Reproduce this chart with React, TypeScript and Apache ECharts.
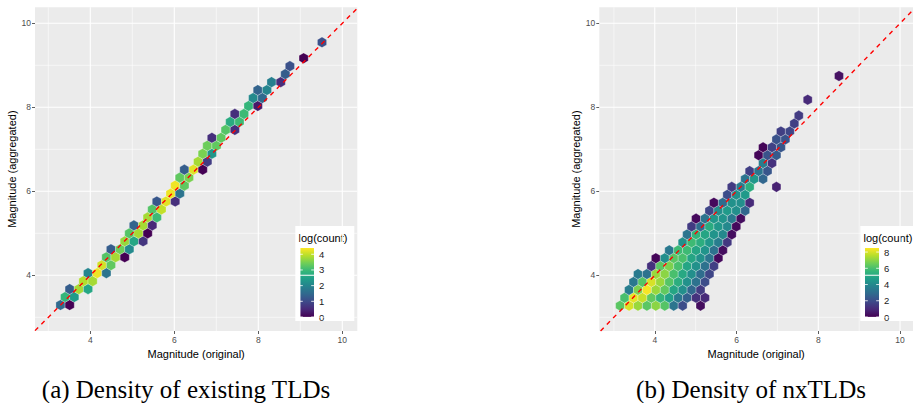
import { useEffect, useRef } from "react";
import * as echarts from "echarts";

// Axis limits (magnitude units) of the two panels
const xLimitsExisting = [2.683, 10.357];
const xLimitsNx = [2.643, 10.317];
const yLimits = [2.674, 10.381];

const axisBreaks = [4, 6, 8, 10];
const minorBreaks = [3, 5, 7, 9];

// Hexbin grids: centre of cell (0, 0), half a cell width and row spacing, in magnitude units
const existingGrid = { x0: 3.29, y0: 3.293, half: 0.10924, row: 0.18955 };
const nxGrid = { x0: 3.152, y0: 3.276, half: 0.10927, row: 0.1886 };

// Hexbin cells: [column (half-cell steps), row, log(count)]
const existingCells: number[][] = [
  [0, 0, 1.5], [2, 0, 0],
  [1, 1, 2.9], [3, 1, 2.4],
  [2, 2, 1.3], [4, 2, 3.8], [6, 2, 2.6],
  [5, 3, 3.9], [7, 3, 3.8],
  [6, 4, 2.0], [8, 4, 4.3], [10, 4, 1.7],
  [9, 5, 4.1], [11, 5, 3.3],
  [10, 6, 3.2], [12, 6, 3.8], [14, 6, 0],
  [11, 7, 1.3], [13, 7, 3.4], [15, 7, 2.1],
  [14, 8, 3.7], [16, 8, 2.6], [18, 8, 0.7],
  [15, 9, 3.2], [17, 9, 3.8], [19, 9, 0],
  [16, 10, 1.4], [18, 10, 3.8], [20, 10, 0.5],
  [19, 11, 3.8], [21, 11, 3.0],
  [20, 12, 3.2], [22, 12, 4.0],
  [21, 13, 1.2], [23, 13, 4.2], [25, 13, 0.6],
  [24, 14, 4.3], [26, 14, 1.7],
  [25, 15, 4.3], [27, 15, 3.3],
  [26, 16, 3.3], [28, 16, 3.5],
  [27, 17, 1.3], [29, 17, 4.2], [31, 17, 0],
  [30, 18, 3.8], [32, 18, 0.8],
  [31, 19, 3.5], [33, 19, 2.3],
  [32, 20, 3.4], [34, 20, 3.3],
  [33, 21, 0.6], [35, 21, 3.3],
  [36, 22, 3.2], [38, 22, 0.6],
  [37, 23, 2.7], [39, 23, 3.0],
  [38, 24, 0.6], [40, 24, 3.0],
  [41, 25, 2.9], [43, 25, 0.3],
  [42, 26, 2.1], [44, 26, 1.5],
  [43, 27, 1.4], [45, 27, 2.0],
  [46, 28, 1.9], [48, 28, 0.6],
  [49, 29, 1.3],
  [50, 30, 1.1],
  [53, 31, 0],
  [57, 33, 1.1],
];

const nxCells: number[][] = [
  [0, 0, 6.3], [2, 0, 8.0], [4, 0, 7.2], [6, 0, 6.3], [8, 0, 7.0], [10, 0, 6.2], [12, 0, 3.3], [14, 0, 2.0], [18, 0, 0.3],
  [1, 1, 6.0], [3, 1, 8.2], [5, 1, 7.8], [7, 1, 6.4], [9, 1, 5.6], [11, 1, 4.8], [13, 1, 3.4], [15, 1, 2.6], [17, 1, 1.2], [19, 1, 1.0],
  [2, 2, 3.6], [4, 2, 6.8], [6, 2, 8.4], [8, 2, 7.2], [10, 2, 6.4], [12, 2, 5.0], [14, 2, 4.2], [16, 2, 2.8], [18, 2, 1.5],
  [3, 3, 3.4], [5, 3, 6.2], [7, 3, 8.0], [9, 3, 7.2], [11, 3, 6.2], [13, 3, 5.3], [15, 3, 4.3], [17, 3, 3.2], [19, 3, 2.0],
  [4, 4, 3.5], [6, 4, 3.2], [8, 4, 7.2], [10, 4, 7.0], [12, 4, 6.0], [14, 4, 5.1], [16, 4, 4.2], [18, 4, 3.0], [20, 4, 1.8],
  [7, 5, 1.2], [9, 5, 6.3], [11, 5, 6.8], [13, 5, 6.0], [15, 5, 5.0], [17, 5, 4.3], [19, 5, 3.2], [21, 5, 1.6],
  [8, 6, 0.1], [10, 6, 4.2], [12, 6, 6.3], [14, 6, 6.0], [16, 6, 5.0], [18, 6, 4.3], [20, 6, 3.3], [22, 6, 0.2],
  [11, 7, 3.4], [13, 7, 5.8], [15, 7, 5.8], [17, 7, 5.0], [19, 7, 4.4], [21, 7, 3.2], [23, 7, 0.3],
  [14, 8, 4.3], [16, 8, 5.8], [18, 8, 5.3], [20, 8, 4.5], [22, 8, 3.6], [24, 8, 1.4],
  [15, 9, 3.3], [17, 9, 5.6], [19, 9, 5.0], [21, 9, 4.4], [23, 9, 4.0], [25, 9, 0.3],
  [16, 10, 1.5], [18, 10, 3.0], [20, 10, 5.2], [22, 10, 4.5], [24, 10, 4.0], [26, 10, 0.2],
  [17, 11, 0.2], [19, 11, 3.3], [21, 11, 4.5], [23, 11, 4.4], [25, 11, 3.5], [27, 11, 0.3],
  [20, 12, 1.8], [22, 12, 4.2], [24, 12, 4.6], [26, 12, 4.2], [28, 12, 2.8],
  [21, 13, 0.2], [23, 13, 3.0], [25, 13, 4.3], [27, 13, 4.2], [29, 13, 1.0],
  [24, 14, 2.0], [26, 14, 4.3], [28, 14, 4.6],
  [25, 15, 1.5], [27, 15, 3.6], [29, 15, 5.3], [35, 15, 0.8],
  [28, 16, 3.3], [30, 16, 4.5], [32, 16, 2.8],
  [29, 17, 1.6], [31, 17, 3.3], [33, 17, 2.3],
  [32, 18, 3.6], [34, 18, 1.2],
  [31, 19, 0.1], [33, 19, 2.2], [35, 19, 2.4],
  [32, 20, 0.1], [34, 20, 1.7], [36, 20, 2.3],
  [35, 21, 2.2], [37, 21, 2.2],
  [36, 22, 1.6], [38, 22, 1.8],
  [39, 23, 1.6],
  [40, 24, 1.5],
  [42, 26, 1.0],
  [49, 29, 0.4],
];

// Colour bar limits and labelled breaks
const existingLogMax = 4.4;
const nxLogMax = 8.5;
const existingLegendBreaks = [0, 1, 2, 3, 4];
const nxLegendBreaks = [0, 2, 4, 6, 8];

const captions = ["(a) Density of existing TLDs", "(b) Density of nxTLDs"];

const viridis = [
  "#440154", "#482878", "#3e4989", "#31688e", "#26828e",
  "#1f9e89", "#35b779", "#6ece58", "#b5de2b", "#fde725",
];

const SANS = '"Liberation Sans", Arial, sans-serif';
const SERIF = '"Liberation Serif", "DejaVu Serif", serif';

type Grid = { x0: number; y0: number; half: number; row: number };

const toPoints = (grid: Grid, cells: number[][]) =>
  cells.map(([c, r, v]) => [grid.x0 + c * grid.half, grid.y0 + r * grid.row, v]);

const hexRenderer = (grid: Grid) => (params: any, api: any) => {
  const c = api.coord([api.value(0), api.value(1)]);
  const size = api.size([grid.half * 2, grid.row]);
  const hw = size[0] / 2;
  const rad = (size[1] * 2) / 3;
  return {
    type: "polygon",
    shape: {
      points: [
        [c[0], c[1] - rad],
        [c[0] + hw, c[1] - rad / 2],
        [c[0] + hw, c[1] + rad / 2],
        [c[0], c[1] + rad],
        [c[0] - hw, c[1] + rad / 2],
        [c[0] - hw, c[1] - rad / 2],
      ],
    },
    style: { fill: api.visual("color"), stroke: "rgba(255,255,255,0.45)", lineWidth: 0.6 },
  };
};

// Panel grid lines: [break, 0 = vertical / 1 = horizontal, 1 = major]
const gridLineData = [
  ...minorBreaks.map((b) => [b, 0, 0]),
  ...minorBreaks.map((b) => [b, 1, 0]),
  ...axisBreaks.map((b) => [b, 0, 1]),
  ...axisBreaks.map((b) => [b, 1, 1]),
];

const gridLineRenderer = (xLim: number[]) => (params: any, api: any) => {
  const v = api.value(0);
  const horizontal = api.value(1) === 1;
  const major = api.value(2) === 1;
  const cs = params.coordSys;
  let shape;
  if (horizontal) {
    const py = api.coord([xLim[0], v])[1];
    shape = { x1: cs.x, y1: py, x2: cs.x + cs.width, y2: py };
  } else {
    const px = api.coord([v, yLimits[0]])[0];
    shape = { x1: px, y1: cs.y, x2: px, y2: cs.y + cs.height };
  }
  return {
    type: "line",
    shape,
    style: { stroke: "#ffffff", lineWidth: major ? 1.1 : 0.55 },
  };
};

const xAxisFor = (idx: number, lim: number[]) => ({
  type: "value",
  gridIndex: idx,
  min: lim[0],
  max: lim[1],
  axisLine: { show: false },
  axisTick: { show: true, customValues: axisBreaks, length: 3, lineStyle: { color: "#333333", width: 0.8 } },
  axisLabel: { customValues: axisBreaks, color: "#4d4d4d", fontSize: 8.5, fontFamily: SANS, margin: 4 },
  splitLine: { show: false },
  name: "Magnitude (original)",
  nameLocation: "middle",
  nameGap: 15,
  nameTextStyle: { color: "#000000", fontSize: 11, fontFamily: SANS },
});

const yAxisFor = (idx: number) => ({
  type: "value",
  gridIndex: idx,
  min: yLimits[0],
  max: yLimits[1],
  axisLine: { show: false },
  axisTick: { show: true, customValues: axisBreaks, length: 3, lineStyle: { color: "#333333", width: 0.8 } },
  axisLabel: { customValues: axisBreaks, color: "#4d4d4d", fontSize: 8.5, fontFamily: SANS, margin: 4 },
  splitLine: { show: false },
  name: "Magnitude (aggregated)",
  nameLocation: "middle",
  nameGap: 15,
  nameTextStyle: { color: "#000000", fontSize: 11, fontFamily: SANS },
});

const colourBar = (boxLeft: number, logMax: number, breaks: number[]) => {
  const barTop = 248;
  const barBottom = 317;
  const barX = boxLeft + 4.7;
  const barW = 14;
  const yOf = (v: number) => barBottom - (v / logMax) * (barBottom - barTop);
  const stops = viridis.map((color, i) => ({ offset: i / (viridis.length - 1), color }));
  const items: any[] = [
    { type: "rect", shape: { x: boxLeft, y: 226, width: 59, height: 95 }, style: { fill: "#ffffff" } },
    {
      type: "text",
      x: boxLeft + 3.2,
      y: 237.5,
      style: { text: "log(count)", fontSize: 11, fontFamily: SANS, fill: "#000000", textVerticalAlign: "middle" },
    },
    {
      type: "rect",
      shape: { x: barX, y: barTop, width: barW, height: barBottom - barTop },
      style: { fill: new echarts.graphic.LinearGradient(0, 1, 0, 0, stops) },
    },
  ];
  breaks.forEach((b) => {
    const y = yOf(b);
    items.push(
      { type: "line", shape: { x1: barX, y1: y, x2: barX + 2.8, y2: y }, style: { stroke: "#ffffff", lineWidth: 0.8 } },
      { type: "line", shape: { x1: barX + barW - 2.8, y1: y, x2: barX + barW, y2: y }, style: { stroke: "#ffffff", lineWidth: 0.8 } },
      {
        type: "text",
        x: barX + barW + 5,
        y,
        style: { text: String(b), fontSize: 9.5, fontFamily: SANS, fill: "#1a1a1a", textVerticalAlign: "middle" },
      },
    );
  });
  return items;
};

export default function App() {
  const ref = useRef<HTMLDivElement>(null);

  useEffect(() => {
    if (!ref.current) return;
    const chart = echarts.init(ref.current, null, { renderer: "svg" });

    const diagonal = (xLim: number[]) => {
      const lo = Math.max(xLim[0], yLimits[0]);
      const hi = Math.min(xLim[1], yLimits[1]);
      return [[lo, lo], [hi, hi]];
    };

    const panelSeries = (idx: number, xLim: number[], grid: Grid, cells: number[][]) => [
      {
        type: "custom",
        xAxisIndex: idx,
        yAxisIndex: idx,
        renderItem: gridLineRenderer(xLim),
        data: gridLineData,
        silent: true,
        z: 1,
      },
      {
        type: "custom",
        xAxisIndex: idx,
        yAxisIndex: idx,
        renderItem: hexRenderer(grid),
        data: toPoints(grid, cells),
        silent: true,
        z: 2,
      },
      {
        type: "line",
        xAxisIndex: idx,
        yAxisIndex: idx,
        data: diagonal(xLim),
        symbol: "none",
        clip: true,
        silent: true,
        lineStyle: { color: "#ff0000", width: 1.4, type: [4.5, 4.5] },
        z: 3,
      },
    ];

    chart.setOption({
      animation: false,
      backgroundColor: "#ffffff",
      grid: [
        { left: 35, top: 7.3, width: 322.3, height: 323.7, show: true, backgroundColor: "#ebebeb", borderWidth: 0 },
        { left: 599.3, top: 7.3, width: 322.3, height: 323.7, show: true, backgroundColor: "#ebebeb", borderWidth: 0 },
      ],
      xAxis: [xAxisFor(0, xLimitsExisting), xAxisFor(1, xLimitsNx)],
      yAxis: [yAxisFor(0), yAxisFor(1)],
      visualMap: [
        { type: "continuous", show: false, seriesIndex: 1, dimension: 2, min: 0, max: existingLogMax, inRange: { color: viridis } },
        { type: "continuous", show: false, seriesIndex: 4, dimension: 2, min: 0, max: nxLogMax, inRange: { color: viridis } },
      ],
      series: [
        ...panelSeries(0, xLimitsExisting, existingGrid, existingCells),
        ...panelSeries(1, xLimitsNx, nxGrid, nxCells),
      ],
      graphic: [
        ...colourBar(295.3, existingLogMax, existingLegendBreaks),
        ...colourBar(860.3, nxLogMax, nxLegendBreaks),
        {
          type: "text",
          x: 186,
          y: 389,
          style: { text: captions[0], fontSize: 25, fontFamily: SERIF, fill: "#000000", textAlign: "center", textVerticalAlign: "middle" },
        },
        {
          type: "text",
          x: 751,
          y: 389,
          style: { text: captions[1], fontSize: 25, fontFamily: SERIF, fill: "#000000", textAlign: "center", textVerticalAlign: "middle" },
        },
      ],
    });

    return () => chart.dispose();
  }, []);

  return (
    <div
      ref={ref}
      style={{ position: "absolute", left: 0, top: 0, width: 913, height: 403 }}
    />
  );
}
